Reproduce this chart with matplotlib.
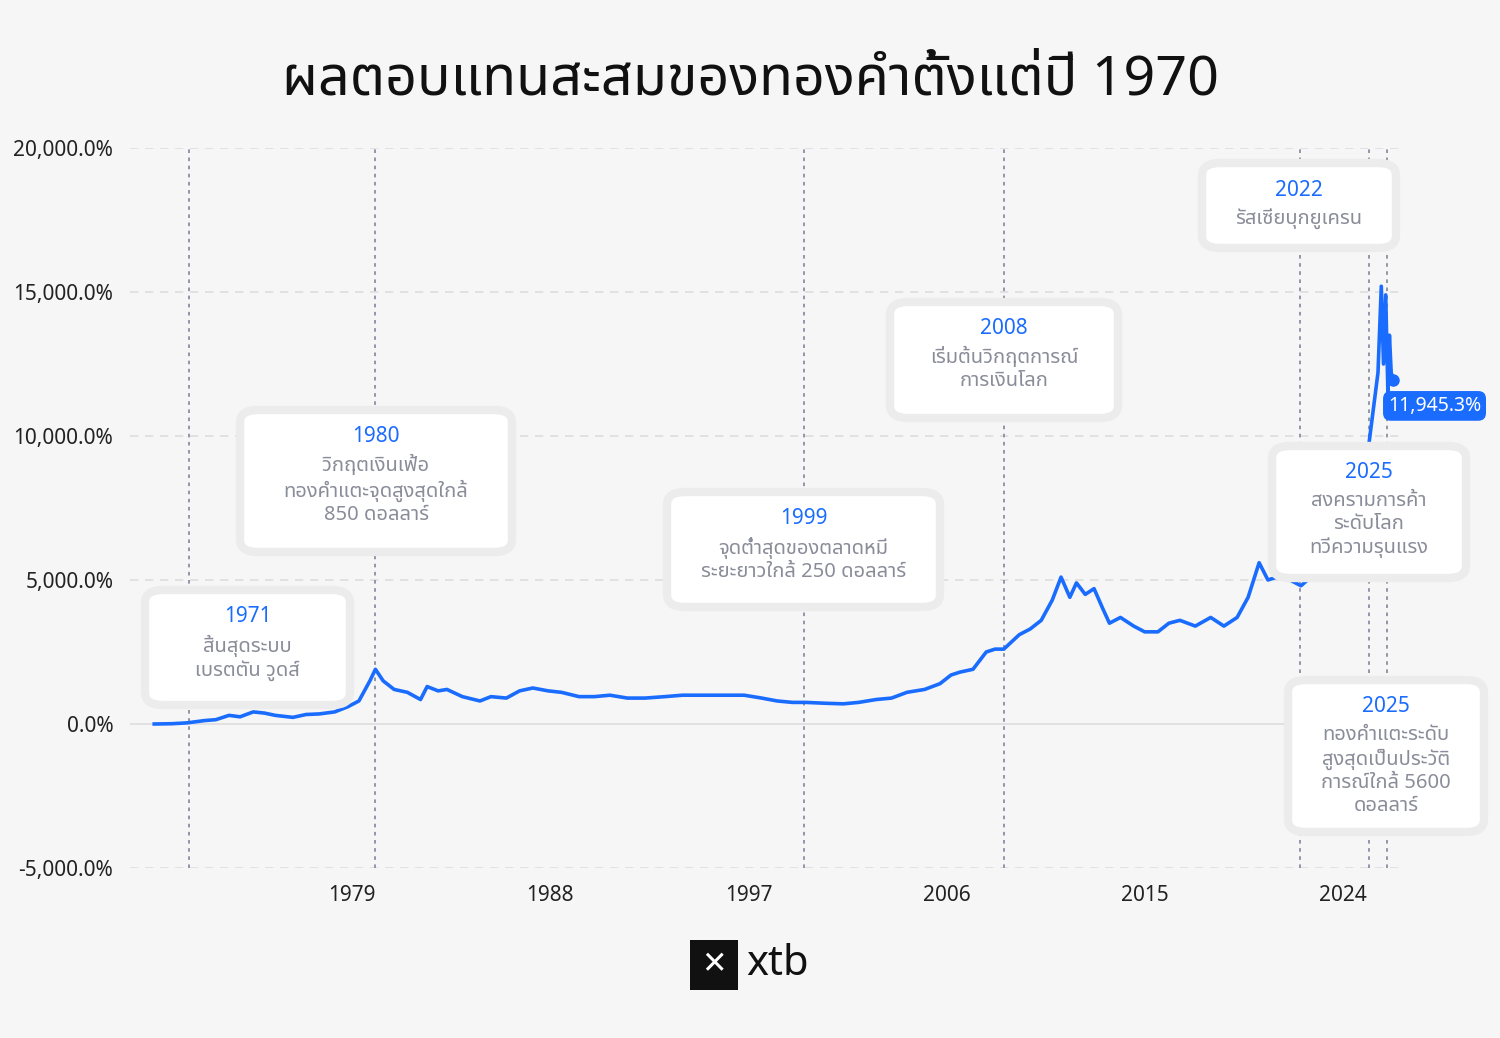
import matplotlib.pyplot as plt
from matplotlib.patches import FancyBboxPatch

plt.rcParams['font.family'] = ['Noto Sans Thai', 'Noto Sans', 'DejaVu Sans']

years = [1970, 1970.8, 1971.5, 1972.3, 1972.8, 1973.4, 1973.9, 1974.5, 1975.0, 1975.5, 1976.3, 1976.9,
         1977.5, 1978.2, 1978.8, 1979.3, 1979.8, 1980.05, 1980.4, 1980.9, 1981.5, 1982.1, 1982.4, 1982.9,
         1983.3, 1984.0, 1984.8, 1985.3, 1986.0, 1986.6, 1987.2, 1987.9, 1988.5, 1989.3, 1990.0, 1990.7,
         1991.5, 1992.3, 1993.2, 1994.0, 1995.0, 1996.0, 1996.8, 1997.6, 1998.3, 1999.0, 1999.6, 2000.5,
         2001.3, 2002.0, 2002.8, 2003.5, 2004.2, 2005.0, 2005.7, 2006.2, 2006.6, 2007.2, 2007.8, 2008.2,
         2008.6, 2009.3, 2009.8, 2010.3, 2010.8, 2011.2, 2011.6, 2011.9, 2012.3, 2012.7, 2013.1, 2013.4,
         2013.9, 2014.5, 2015.0, 2015.6, 2016.1, 2016.6, 2017.3, 2018.0, 2018.6, 2019.2, 2019.7, 2020.2,
         2020.6, 2021.0, 2021.6, 2022.1, 2022.7, 2023.2, 2023.8, 2024.3, 2024.8, 2025.2, 2025.4, 2025.6,
         2025.75, 2025.85, 2025.95, 2026.05, 2026.12, 2026.2, 2026.3]
returns = [0, 10, 40, 120, 150, 300, 250, 420, 380, 300, 230, 330, 350, 420, 600, 800, 1500, 1900,
           1500, 1200, 1100, 850, 1300, 1150, 1200, 950, 800, 950, 900, 1150, 1250, 1150, 1100, 950,
           950, 1000, 900, 900, 950, 1000, 1000, 1000, 1000, 900, 800, 750, 750, 720, 700, 750, 850,
           900, 1100, 1200, 1400, 1700, 1800, 1900, 2500, 2600, 2600, 3100, 3300, 3600, 4300, 5100,
           4400, 4900, 4500, 4700, 4000, 3500, 3700, 3400, 3200, 3200, 3500, 3600, 3400, 3700, 3400,
           3700, 4400, 5600, 5000, 5100, 5000, 4800, 5200, 5300, 5800, 6800, 8200, 9800, 11000, 12200,
           15200, 12500, 14900, 11500, 13500, 12200, 11945.3]

event_years = [1971.6, 1980.05, 1999.5, 2008.6, 2022.05, 2025.2, 2026.0]
# box: left, top, right, bottom (pixels), year, text
events = [
    (145, 590, 350, 705, "1971", "สิ้นสุดระบบ\nเบรตตัน วูดส์"),
    (240, 410, 512, 552, "1980", "วิกฤตเงินเฟ้อ\nทองคำแตะจุดสูงสุดใกล้\n850 ดอลลาร์"),
    (667, 492, 940, 607, "1999", "จุดต่ำสุดของตลาดหมี\nระยะยาวใกล้ 250 ดอลลาร์"),
    (890, 302, 1118, 418, "2008", "เริ่มต้นวิกฤตการณ์\nการเงินโลก"),
    (1202, 163, 1396, 248, "2022", "รัสเซียบุกยูเครน"),
    (1272, 446, 1466, 578, "2025", "สงครามการค้า\nระดับโลก\nทวีความรุนแรง"),
    (1288, 680, 1484, 832, "2025", "ทองคำแตะระดับ\nสูงสุดเป็นประวัติ\nการณ์ใกล้ 5600\nดอลลาร์"),
]

blue = '#1a6cff'
W, H = 1500, 1038
fig = plt.figure(figsize=(15, 10.38), dpi=100, facecolor='#f6f6f6')
ax = fig.add_axes([130/W, 1-868/H, 1270/W, 720/H])
ax.set_facecolor('#f6f6f6')
ax.set_xlim(1968.9, 2026.6)
ax.set_ylim(-5000, 20000)
for y in [-5000, 0, 5000, 10000, 15000, 20000]:
    ax.axhline(y, color='#dddddd', lw=1.2, ls=(0, (5, 4)) if y != 0 else '-', zorder=0)
for x in event_years:
    ax.axvline(x, color='#8a8fa0', lw=1.3, ls=(0, (2, 2.5)), zorder=1)
ax.plot(years, returns, color=blue, lw=2.6, zorder=3)
ax.plot(years[-1], returns[-1], 'o', color=blue, ms=8, zorder=4)
ax.text(years[-1] - 0.25, returns[-1] - 900, "11,945.3%", color='white', fontsize=14,
        va='center', ha='left', zorder=5,
        bbox=dict(boxstyle='round,pad=0.25,rounding_size=0.4', fc=blue, ec='none'))
ax.set_yticks([-5000, 0, 5000, 10000, 15000, 20000])
ax.set_yticklabels([f"{v:,.1f}%" for v in [-5000, 0, 5000, 10000, 15000, 20000]])
ax.set_xticks([1979, 1988, 1997, 2006, 2015, 2024])
ax.tick_params(length=0, labelsize=15, colors='#222222', pad=12)
for s in ax.spines.values():
    s.set_visible(False)

for l, t, r, b, yr, txt in events:
    fig.patches.append(FancyBboxPatch((l/W, 1-b/H), (r-l)/W, (b-t)/H,
                                      boxstyle='round,pad=0,rounding_size=0.012',
                                      fc='white', ec='#ececec', lw=6,
                                      transform=fig.transFigure, zorder=10))
    cx = (l+r)/2/W
    fig.text(cx, 1-(t+27)/H, yr, ha='center', va='center', fontsize=15,
             color=blue, fontweight='bold', zorder=11)
    fig.text(cx, 1-(t+45)/H, txt, ha='center', va='top', fontsize=14.5,
             color='#8a8d99', linespacing=1.2, zorder=11)

fig.text(0.5, 1-80/H, "ผลตอบแทนสะสมของทองคำตั้งแต่ปี 1970", ha='center', va='center',
         fontsize=40, fontweight='bold', color='#111111')

# logo
fig.patches.append(FancyBboxPatch((690/W, 1-990/H), 48/W, 50/H,
                                  boxstyle='square,pad=0', fc='#111111', ec='none',
                                  transform=fig.transFigure))
fig.text(714/W, 1-965/H, "✕", ha='center', va='center', color='white', fontsize=22,
         family='DejaVu Sans')
fig.text(746/W, 1-964/H, "xtb", ha='left', va='center', fontsize=30,
         fontweight='bold', color='#111111')

fig.savefig('out.png', dpi=100, facecolor=fig.get_facecolor())
